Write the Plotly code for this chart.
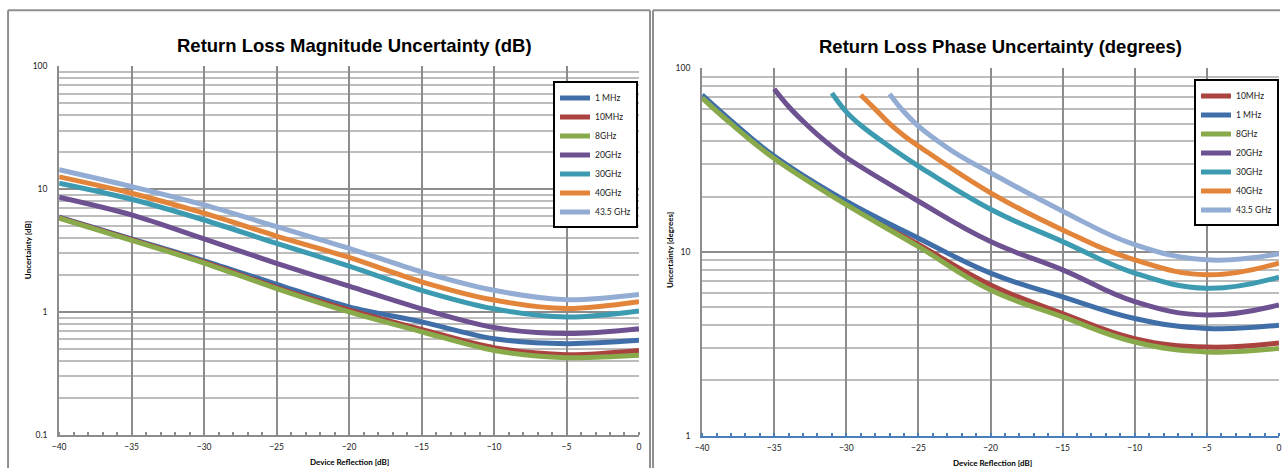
import plotly.graph_objects as go

# ---------------- data: Return Loss Magnitude Uncertainty (dB) ----------------
mag_x = [-40, -35, -30, -25, -20, -15, -10, -5, 0]
mag_1mhz = [5.93, 3.93, 2.61, 1.68, 1.10, 0.83, 0.606, 0.552, 0.587]
mag_10mhz = [5.85, 3.88, 2.54, 1.58, 1.04, 0.72, 0.512, 0.449, 0.486]
mag_8ghz = [5.80, 3.83, 2.50, 1.55, 1.00, 0.69, 0.486, 0.424, 0.443]
mag_20ghz = [8.6, 6.17, 3.93, 2.49, 1.62, 1.06, 0.746, 0.666, 0.73]
mag_30ghz = [11.2, 8.28, 5.61, 3.62, 2.36, 1.50, 1.06, 0.91, 1.02]
mag_40ghz = [12.6, 9.27, 6.37, 4.15, 2.78, 1.76, 1.25, 1.066, 1.21]
mag_435ghz = [14.4, 10.5, 7.45, 4.95, 3.30, 2.12, 1.50, 1.26, 1.39]

# ---------------- data: Return Loss Phase Uncertainty (degrees) ----------------
ph_x_low = [-40, -38, -35, -30, -25, -20, -15, -10, -5, 0]
ph_10mhz = [69.5, 50.5, 32.6, 18.4, 11.0, 6.62, 4.63, 3.38, 3.04, 3.20]
ph_1mhz = [71.7, 52.0, 33.3, 18.9, 11.9, 7.68, 5.71, 4.35, 3.84, 4.00]
ph_8ghz = [69.1, 50.0, 32.3, 18.1, 10.7, 6.22, 4.44, 3.24, 2.86, 2.99]
ph_20ghz_x = [-35, -34, -33, -32, -31, -30, -25, -20, -15, -10, -5, 0]
ph_20ghz = [77.3, 62.0, 51.5, 43.6, 37.5, 32.7, 18.9, 11.4, 8.0, 5.37, 4.54, 5.15]
ph_30ghz_x = [-31, -30, -29, -27, -25, -20, -15, -10, -5, 0]
ph_30ghz = [73.4, 58.0, 49.0, 37.5, 29.4, 17.1, 11.4, 7.68, 6.35, 7.30]
ph_40ghz_x = [-29, -28, -27, -26, -25, -20, -15, -10, -5, 0]
ph_40ghz = [71.6, 60.0, 50.0, 43.0, 37.8, 21.0, 13.2, 9.07, 7.52, 8.71]
ph_435ghz_x = [-27, -26, -25, -23, -22, -20, -15, -10, -5, 0]
ph_435ghz = [72.6, 58.0, 48.5, 37.0, 33.0, 27.0, 16.7, 10.96, 9.07, 9.79]

mag_names = ["1 MHz", "10MHz", "8GHz", "20GHz", "30GHz", "40GHz", "43.5 GHz"]
ph_names = ["10MHz", "1 MHz", "8GHz", "20GHz", "30GHz", "40GHz", "43.5 GHz"]
x_ticks = [-40, -35, -30, -25, -20, -15, -10, -5, 0]

COL = {
    "1 MHz": "#3F6EA8",
    "10MHz": "#AA4340",
    "8GHz": "#88AA4B",
    "20GHz": "#6D5191",
    "30GHz": "#3C9BB1",
    "40GHz": "#E2853A",
    "43.5 GHz": "#92ACD3",
}

W, H = 1283, 473
LW = 5

fig = go.Figure()

mag_series = [mag_1mhz, mag_10mhz, mag_8ghz, mag_20ghz, mag_30ghz, mag_40ghz, mag_435ghz]
for name, ys in zip(mag_names, mag_series):
    fig.add_trace(go.Scatter(
        x=mag_x, y=ys, name=name, mode="lines",
        line=dict(color=COL[name], width=LW, shape="spline", smoothing=0.9),
        xaxis="x", yaxis="y", legend="legend",
    ))

ph_series = [
    (ph_x_low, ph_10mhz), (ph_x_low, ph_1mhz), (ph_x_low, ph_8ghz),
    (ph_20ghz_x, ph_20ghz), (ph_30ghz_x, ph_30ghz),
    (ph_40ghz_x, ph_40ghz), (ph_435ghz_x, ph_435ghz),
]
for name, (xs, ys) in zip(ph_names, ph_series):
    fig.add_trace(go.Scatter(
        x=xs, y=ys, name=name, mode="lines",
        line=dict(color=COL[name], width=LW, shape="spline", smoothing=1.2),
        xaxis="x2", yaxis="y2", legend="legend2",
    ))

# layout helpers: target pixel positions -> paper fractions
def px(x):
    p = (x * 1295.0 / 1283.0 - 6.0) / W
    return min(max(p, 0.0), 0.9992)

def py(y):
    p = 1 - (y * 485.0 / 473.0 - 6.0) / H
    return min(max(p, 0.0), 1.0)

GRID = "#8c8c8c"
MINOR = "#bdbdbd"
TICKFONT = dict(family="Lato, Open Sans, sans-serif", size=8.5, color="#222")

def minor_vals(lo, hi):
    return [m * 10 ** e for e in range(lo, hi) for m in range(2, 10)]

def xaxis_cfg(domain, anchor, linecolor):
    return dict(
        domain=domain, anchor=anchor, range=[-40, 0],
        tickmode="array", tickvals=x_ticks,
        showgrid=True, gridcolor=GRID, gridwidth=2,
        zeroline=False, showline=True, linecolor=linecolor, linewidth=2,
        ticks="", tickfont=TICKFONT, ticklabelstandoff=3,
        minor=dict(dtick=1, tick0=0, ticks="inside", ticklen=3, tickwidth=1.5,
                   tickcolor=linecolor, showgrid=False),
        fixedrange=True,
    )

def yaxis_cfg(domain, anchor, lo, hi, tv, tt):
    return dict(
        domain=domain, anchor=anchor, type="log", range=[lo, hi],
        tickmode="array", tickvals=tv, ticktext=tt,
        showgrid=True, gridcolor=GRID, gridwidth=2,
        zeroline=False, showline=True, linecolor=GRID, linewidth=2,
        ticks="", tickfont=TICKFONT, ticklabelstandoff=8,
        minor=dict(tickmode="array", tickvals=minor_vals(lo, hi), showgrid=True,
                   gridcolor=MINOR, gridwidth=1.5, ticks=""),
        fixedrange=True,
    )

LEGFONT = dict(family="Lato, Open Sans, sans-serif", size=8.5, color="#222")
fig.update_layout(
    width=W, height=H, autosize=False,
    margin=dict(l=0, r=0, t=0, b=0),
    paper_bgcolor="white", plot_bgcolor="white",
    xaxis=xaxis_cfg([px(58), px(637)], "y", GRID),
    yaxis=yaxis_cfg([py(434), py(67)], "x", -1, 2, [0.1, 1, 10, 100], ["0.1", "1", "10", "100"]),
    xaxis2=xaxis_cfg([px(700), px(1281)], "y2", "#4A7EBB"),
    yaxis2=yaxis_cfg([py(435), py(69)], "x2", 0, 2, [1, 10, 100], ["1", "10", "100"]),
    legend=dict(
        x=px(636), y=py(82), xanchor="right", yanchor="top",
        bgcolor="white", bordercolor="black", borderwidth=2,
        font=LEGFONT, itemwidth=30, tracegroupgap=0,
    ),
    legend2=dict(
        x=px(1281), y=py(80), xanchor="right", yanchor="top",
        bgcolor="white", bordercolor="black", borderwidth=2,
        font=LEGFONT, itemwidth=30, tracegroupgap=0,
    ),
    showlegend=True,
)

FRAME = dict(color="#8f8f8f", width=2)
shapes = [
    # chart frames (open at the bottom, as in the original)
    dict(type="line", xref="paper", yref="paper", x0=px(7), x1=px(648), y0=py(11), y1=py(11), line=FRAME, layer="below"),
    dict(type="line", xref="paper", yref="paper", x0=px(7), x1=px(7), y0=0, y1=py(11), line=FRAME, layer="below"),
    dict(type="line", xref="paper", yref="paper", x0=px(648), x1=px(648), y0=0, y1=py(11), line=FRAME, layer="below"),
    dict(type="line", xref="paper", yref="paper", x0=px(651), x1=1.0, y0=py(11), y1=py(11), line=FRAME, layer="below"),
    dict(type="line", xref="paper", yref="paper", x0=px(651), x1=px(651), y0=0, y1=py(11), line=FRAME, layer="below"),
    # hidden part of the top gridline on the phase chart
    dict(type="rect", xref="paper", yref="paper", x0=px(771), x1=px(1172), y0=py(70.5), y1=py(66),
         line=dict(width=0), fillcolor="white", layer="between"),
]
fig.update_layout(shapes=shapes)

TITLE_FONT = dict(family="Liberation Sans, Arial, sans-serif", size=18.5, color="black")
AX_FONT = dict(family="Lato, Open Sans, sans-serif", size=8, color="black")
ann = [
    dict(text="<b>Return Loss Magnitude Uncertainty (dB)</b>", x=px(353), y=py(46),
         font=TITLE_FONT),
    dict(text="<b>Return Loss Phase Uncertainty (degrees)</b>", x=px(998), y=py(47),
         font=TITLE_FONT),
    dict(text="<b>Device Reflection [dB]</b>", x=px(348), y=py(461), font=AX_FONT),
    dict(text="<b>Device Reflection [dB]</b>", x=px(990), y=py(462), font=AX_FONT),
    dict(text="<b>Uncertainty [dB]</b>", x=px(27), y=py(250), font=AX_FONT, textangle=-90),
    dict(text="<b>Uncertainty [degrees]</b>", x=px(668), y=py(250), font=AX_FONT, textangle=-90),
]
for a in ann:
    a.update(xref="paper", yref="paper", showarrow=False, xanchor="center", yanchor="middle")
fig.update_layout(annotations=ann)

fig.write_html(
    "out.html",
    config={"displayModeBar": False, "responsive": False},
    post_script="document.body.style.margin='0';document.body.style.padding='0';document.body.style.overflow='hidden';",
)
